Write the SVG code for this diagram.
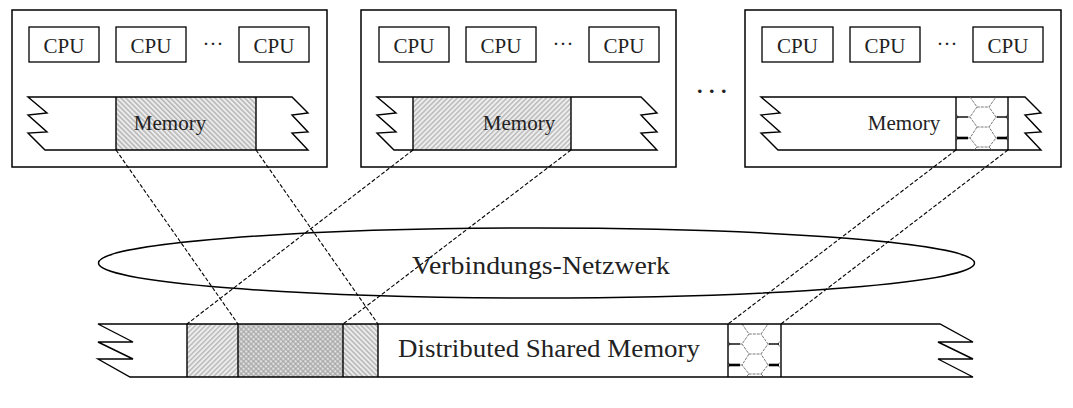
<svg xmlns="http://www.w3.org/2000/svg" xmlns:xlink="http://www.w3.org/1999/xlink" width="1073" height="408" viewBox="0 0 1073 408">
<style>
.box{fill:none;stroke:#000;stroke-width:1.5}
.cpu{fill:#fff;stroke:#000;stroke-width:1.3}
.edge{fill:none;stroke:#000;stroke-width:1.4}
.t{font-family:"Liberation Serif","Times New Roman",serif;fill:#222}
.cpu-t{font-size:21px;text-anchor:middle}
.mem-t{font-size:21px;text-anchor:middle}
.conn{fill:none;stroke:#000;stroke-width:1.1;stroke-dasharray:4 2}
.hexl{fill:none;stroke:#7a7a7a;stroke-width:1;stroke-dasharray:3 1}
.hexk{stroke:#000;stroke-width:1.4}
.hexK{stroke:#000;stroke-width:2.6}
</style>
<defs>
<pattern id="hB" width="3.5" height="3.5" patternUnits="userSpaceOnUse" patternTransform="rotate(-45)">
<line x1="0.8" y1="0" x2="0.8" y2="3.5" stroke="#a0a0a0" stroke-width="1.1"/>
</pattern>
<pattern id="hF" width="3.5" height="3.5" patternUnits="userSpaceOnUse" patternTransform="rotate(45)">
<line x1="0.8" y1="0" x2="0.8" y2="3.5" stroke="#a6a6a6" stroke-width="1.1"/>
</pattern>
<g id="hex">
<path class="hexl" d="M14,0 L21,10 L33,10 L40,0 M21,10 L14,20 L21,30 L33,30 L40,20 L33,10 M21,30 L14,41 L21,50 L33,50 L40,41 L33,30 M21,50 L18,53 M33,50 L36,53 M14,20 L12,20 M14,41 L12,41 M40,20 L42,20 M40,41 L42,41 M2,20 L0,17 M2,20 L0,23 M2,41 L0,38 M2,41 L0,44 M50,20 L52,17 M50,20 L52,23 M50,41 L52,38 M50,41 L52,44"/>
<line class="hexk" x1="1" y1="20" x2="12" y2="20"/>
<line class="hexK" x1="1" y1="41" x2="12" y2="41"/>
<line class="hexk" x1="41" y1="20" x2="51" y2="20"/>
<line class="hexK" x1="41" y1="41" x2="51" y2="41"/>
</g>
<path id="strip" class="edge" d="M16,87 L35,103 L16,105 L35,122 L16,123 L33,140 L296,140 L280,123 L296,122 L280,105 L296,103 L280,87 Z"/>
</defs>

<rect width="1073" height="408" fill="#fff"/>

<g id="node1" transform="translate(12,10)">
<rect class="box" x="0" y="0" width="315" height="157"/>
<rect class="cpu" x="17" y="17" width="70" height="35"/>
<rect class="cpu" x="104" y="17" width="70" height="35"/>
<rect class="cpu" x="227" y="17" width="70" height="35"/>
<text class="t cpu-t" x="52" y="43">CPU</text>
<text class="t cpu-t" x="139" y="43">CPU</text>
<text class="t cpu-t" x="262" y="43">CPU</text>
<text class="t cpu-t" x="201" y="41">···</text>
<rect x="104" y="87" width="140" height="53" fill="#ececec"/>
<rect x="104" y="87" width="140" height="53" fill="url(#hB)"/>
<use xlink:href="#strip"/>
<line class="edge" x1="104" y1="87" x2="104" y2="140"/>
<line class="edge" x1="244" y1="87" x2="244" y2="140"/>
<text class="t mem-t" x="158" y="120">Memory</text>
</g>

<g id="node2" transform="translate(361,10)">
<rect class="box" x="0" y="0" width="315" height="157"/>
<rect class="cpu" x="18" y="17" width="70" height="35"/>
<rect class="cpu" x="105" y="17" width="70" height="35"/>
<rect class="cpu" x="228" y="17" width="70" height="35"/>
<text class="t cpu-t" x="53" y="43">CPU</text>
<text class="t cpu-t" x="140" y="43">CPU</text>
<text class="t cpu-t" x="263" y="43">CPU</text>
<text class="t cpu-t" x="202" y="41">···</text>
<rect x="52" y="87" width="158" height="53" fill="#eeeeee"/>
<rect x="52" y="87" width="158" height="53" fill="url(#hF)"/>
<use xlink:href="#strip"/>
<line class="edge" x1="52" y1="87" x2="52" y2="140"/>
<line class="edge" x1="210" y1="87" x2="210" y2="140"/>
<text class="t mem-t" x="158" y="120">Memory</text>
</g>

<g id="dots">
<text class="t" x="697" y="93" font-size="22" font-weight="bold" letter-spacing="6.5">...</text>
</g>

<g id="node3" transform="translate(745,10)">
<rect class="box" x="0" y="0" width="316" height="157"/>
<rect class="cpu" x="17" y="17" width="71" height="35"/>
<rect class="cpu" x="105" y="17" width="70" height="35"/>
<rect class="cpu" x="228" y="17" width="70" height="35"/>
<text class="t cpu-t" x="52.5" y="43">CPU</text>
<text class="t cpu-t" x="140" y="43">CPU</text>
<text class="t cpu-t" x="263" y="43">CPU</text>
<text class="t cpu-t" x="202" y="41">···</text>
<use xlink:href="#strip"/>
<use xlink:href="#hex" x="211" y="87"/>
<line class="edge" x1="211" y1="87" x2="211" y2="140"/>
<line class="edge" x1="263" y1="87" x2="263" y2="140"/>
<text class="t mem-t" x="159" y="120">Memory</text>
</g>

<g id="network">
<ellipse cx="536.5" cy="263" rx="438" ry="35" fill="none" stroke="#000" stroke-width="1.5"/>
<text class="t" x="541" y="274" font-size="25" text-anchor="middle" textLength="258" lengthAdjust="spacingAndGlyphs">Verbindungs-Netzwerk</text>
</g>

<g id="dsm">
<rect x="187" y="324" width="51" height="53" fill="#eeeeee"/>
<rect x="187" y="324" width="51" height="53" fill="url(#hF)"/>
<rect x="238" y="324" width="105" height="53" fill="#e2e2e2"/>
<rect x="238" y="324" width="105" height="53" fill="url(#hF)"/>
<rect x="238" y="324" width="105" height="53" fill="url(#hB)"/>
<rect x="343" y="324" width="35" height="53" fill="#ececec"/>
<rect x="343" y="324" width="35" height="53" fill="url(#hB)"/>
<use xlink:href="#hex" x="728" y="324"/>
<path class="edge" d="M98,324 L133,342 L98,342 L133,359 L98,359 L130,377 L973,377 L938,359 L973,359 L938,342 L973,342 L940,324 Z"/>
<line class="edge" x1="187" y1="324" x2="187" y2="377"/>
<line class="edge" x1="238" y1="324" x2="238" y2="377"/>
<line class="edge" x1="343" y1="324" x2="343" y2="377"/>
<line class="edge" x1="378" y1="324" x2="378" y2="377"/>
<line class="edge" x1="728" y1="324" x2="728" y2="377"/>
<line class="edge" x1="781" y1="324" x2="781" y2="377"/>
<text class="t" x="398" y="357" font-size="25" textLength="302" lengthAdjust="spacingAndGlyphs">Distributed Shared Memory</text>
</g>

<g id="connectors">
<line class="conn" x1="116" y1="150" x2="238" y2="324"/>
<line class="conn" x1="256" y1="150" x2="378" y2="324"/>
<line class="conn" x1="413" y1="150" x2="187" y2="324"/>
<line class="conn" x1="571" y1="150" x2="343" y2="324"/>
<line class="conn" x1="956" y1="150" x2="728" y2="324"/>
<line class="conn" x1="1008" y1="150" x2="781" y2="324"/>
</g>
</svg>
